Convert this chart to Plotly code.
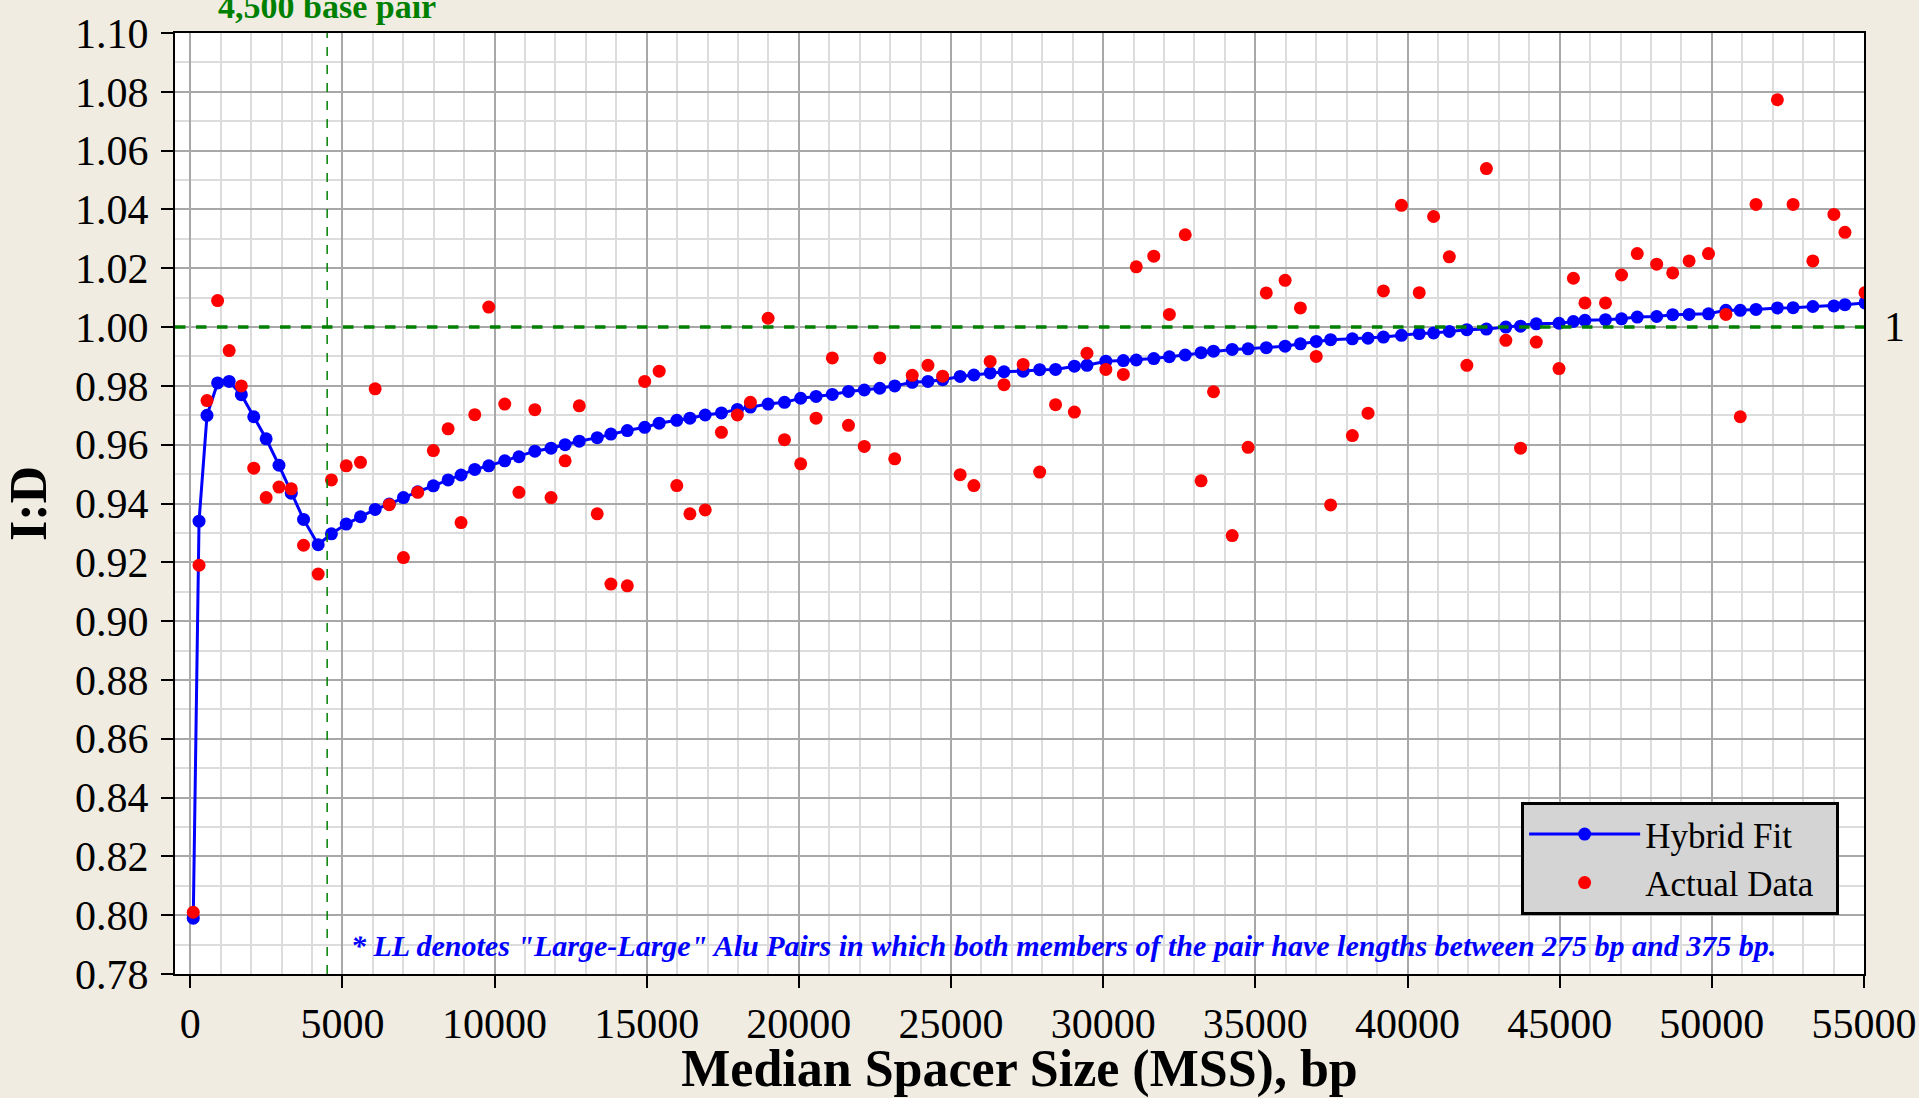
import plotly.graph_objects as go

# Median spacer size (bp)
mss = [100, 290, 552, 900, 1280, 1680, 2088, 2495, 2917, 3320,
       3724, 4205, 4640, 5127, 5595, 6077, 6541, 7006, 7475, 7989,
       8475, 8900, 9350, 9810, 10335, 10802, 11325, 11857, 12319, 12785,
       13374, 13824, 14363, 14934, 15410, 15989, 16420, 16923, 17455, 17980,
       18407, 18989, 19527, 20060, 20565, 21099, 21630, 22150, 22659, 23150,
       23725, 24242, 24725, 25300, 25750, 26286, 26740, 27370, 27913, 28435,
       29054, 29467, 30087, 30663, 31087, 31663, 32174, 32696, 33217, 33625,
       34239, 34761, 35359, 35978, 36480, 37000, 37473, 38187, 38703, 39209,
       39802, 40385, 40857, 41374, 41950, 42593, 43231, 43714, 44231, 44978,
       45451, 45830, 46505, 47033, 47549, 48187, 48714, 49253, 49890, 50462,
       50934, 51451, 52154, 52670, 53319, 54011, 54374, 55033]

# Hybrid fit I:D
hybrid_fit = [0.799, 0.934, 0.970, 0.981, 0.9815, 0.977, 0.9695, 0.962, 0.953, 0.9435,
              0.9346, 0.926, 0.9297, 0.933, 0.9355, 0.938, 0.9398, 0.942, 0.944, 0.946,
              0.948, 0.9497, 0.9516, 0.9528, 0.9545, 0.9559, 0.9578, 0.9588, 0.960, 0.9612,
              0.9624, 0.9636, 0.9648, 0.9659, 0.9673, 0.9683, 0.969, 0.9701, 0.9708, 0.9720,
              0.9728, 0.9738, 0.9744, 0.9758, 0.9764, 0.9771, 0.9781, 0.9786, 0.9792, 0.980,
              0.9812, 0.9815, 0.9821, 0.9832, 0.9837, 0.9844, 0.9848, 0.985, 0.9855, 0.9856,
              0.9867, 0.9870, 0.9884, 0.9886, 0.9888, 0.9893, 0.9899, 0.9905, 0.9913, 0.9918,
              0.9924, 0.9926, 0.993, 0.9935, 0.9943, 0.9951, 0.9957, 0.9960, 0.9962, 0.9966,
              0.9972, 0.9978, 0.9980, 0.9985, 0.9991, 0.9993, 1.0000, 1.0003, 1.0011, 1.0013,
              1.0019, 1.0023, 1.0025, 1.0028, 1.0034, 1.0036, 1.0042, 1.0043, 1.0045, 1.0057,
              1.0057, 1.0060, 1.0065, 1.0066, 1.0070, 1.0072, 1.0076, 1.0082]

# Actual data I:D
actual_data = [0.801, 0.919, 0.975, 1.009, 0.992, 0.980, 0.952, 0.942, 0.9456, 0.945,
               0.9258, 0.916, 0.948, 0.9528, 0.954, 0.979, 0.9396, 0.9216, 0.9438, 0.958,
               0.9654, 0.9335, 0.9702, 1.0068, 0.9738, 0.9438, 0.9719, 0.942, 0.9545, 0.9732,
               0.9365, 0.9126, 0.912, 0.9815, 0.985, 0.9461, 0.9365, 0.9378, 0.9642, 0.9701,
               0.9744, 1.003, 0.9617, 0.9535, 0.969, 0.9895, 0.9666, 0.9594, 0.9895, 0.9552,
               0.9836, 0.987, 0.9833, 0.9498, 0.9461, 0.9883, 0.9804, 0.9873, 0.9507, 0.9736,
               0.9711, 0.9911, 0.9856, 0.9839, 1.0205, 1.0241, 1.0043, 1.0314, 0.9477, 0.978,
               0.9291, 0.9591, 1.0116, 1.0159, 1.0065, 0.990, 0.9395, 0.9631, 0.9707, 1.0123,
               1.0414, 1.0117, 1.0376, 1.0239, 0.987, 1.0539, 0.9955, 0.9588, 0.9949, 0.9859,
               1.0166, 1.0082, 1.0082, 1.0177, 1.025, 1.0214, 1.0184, 1.0225, 1.025, 1.0043,
               0.9695, 1.0417, 1.0773, 1.0417, 1.0225, 1.0383, 1.0322, 1.0117]

x_ticks = [0, 5000, 10000, 15000, 20000, 25000, 30000, 35000, 40000, 45000, 50000, 55000]
y_ticks = [0.78, 0.80, 0.82, 0.84, 0.86, 0.88, 0.90, 0.92, 0.94, 0.96, 0.98, 1.00,
           1.02, 1.04, 1.06, 1.08, 1.10]
threshold_bp = 4500
reference_ratio = 1.0

SERIF = "Liberation Serif, Times New Roman, serif"
BG = "#F0ECE2"
PAD = "&nbsp;&nbsp;"

fig = go.Figure()
fig.add_trace(go.Scatter(
    x=mss, y=hybrid_fit, name="Hybrid Fit" + PAD, mode="lines+markers",
    line=dict(color="#0000FF", width=3),
    marker=dict(color="#0000FF", size=13),
))
fig.add_trace(go.Scatter(
    x=mss, y=actual_data, name="Actual Data" + PAD, mode="markers",
    marker=dict(color="#FF0000", size=13),
))

# reference lines
fig.add_shape(type="line", xref="x", yref="paper", x0=threshold_bp, x1=threshold_bp,
              y0=0, y1=1, line=dict(color="#008000", width=1.5, dash="dash"))
fig.add_shape(type="line", xref="paper", yref="y", x0=0, x1=1,
              y0=reference_ratio, y1=reference_ratio,
              line=dict(color="#008000", width=3.5, dash="dash"))

fig.add_annotation(x=threshold_bp, xref="x", y=1, yref="paper", yshift=27,
                   text="<b>4,500 base pair</b>", showarrow=False,
                   xanchor="center", yanchor="middle",
                   font=dict(family=SERIF, size=34, color="#008000"))
fig.add_annotation(x=1, xref="paper", y=reference_ratio, yref="y", xshift=30,
                   text="1", showarrow=False, xanchor="center", yanchor="middle",
                   font=dict(family=SERIF, size=42, color="#000000"))
fig.add_annotation(x=0.103, xref="paper", y=0.03, yref="paper",
                   text='<b><i>* LL denotes "Large-Large" Alu Pairs in which both members of the pair have lengths between 275 bp and 375 bp.</i></b>',
                   showarrow=False, xanchor="left", yanchor="middle",
                   font=dict(family=SERIF, size=30, color="#0000FF"))

fig.update_layout(
    width=1919, height=1098,
    paper_bgcolor=BG, plot_bgcolor="#FFFFFF",
    margin=dict(l=175, r=55, t=33, b=124, autoexpand=False),
    font=dict(family=SERIF, color="#000000"),
    showlegend=True,
    legend=dict(x=0.797, y=0.183, xanchor="left", yanchor="top",
                bgcolor="#D4D4D4", bordercolor="#000000", borderwidth=3,
                font=dict(family=SERIF, size=35, color="#000000"),
                itemwidth=111, tracegroupgap=4),
)

fig.update_xaxes(
    range=[-500, 55000], tickvals=x_ticks, ticktext=[str(v) for v in x_ticks],
    automargin=False,
    showline=True, linecolor="#000000", linewidth=2, mirror=True,
    ticks="outside", ticklen=12, tickcolor="#000000", tickwidth=2,
    tickfont=dict(family=SERIF, size=42),
    showgrid=True, gridcolor="#A8A8A8", gridwidth=1.5,
    minor=dict(dtick=1000, tick0=0, showgrid=True, gridcolor="#DCDCDC", gridwidth=1.5),
    zeroline=False,
    title=dict(text="<b>Median Spacer Size (MSS), bp</b>", font=dict(family=SERIF, size=52), standoff=6),
)
fig.update_yaxes(
    range=[0.78, 1.10], tickvals=y_ticks, ticktext=[f"{v:.2f}" for v in y_ticks],
    automargin=False,
    showline=True, linecolor="#000000", linewidth=2, mirror=True,
    ticks="outside", ticklen=12, tickcolor="#000000", tickwidth=2,
    tickfont=dict(family=SERIF, size=42), ticklabelstandoff=4,
    showgrid=True, gridcolor="#A8A8A8", gridwidth=1.5,
    minor=dict(dtick=0.01, tick0=0.78, showgrid=True, gridcolor="#DCDCDC", gridwidth=1.5),
    zeroline=False,
    title=dict(text="<b>I:D</b>", font=dict(family=SERIF, size=52), standoff=16),
)

fig.write_html("out.html", config={"displayModeBar": False},
               post_script="document.body.style.margin='0';document.body.style.overflow='hidden';")
